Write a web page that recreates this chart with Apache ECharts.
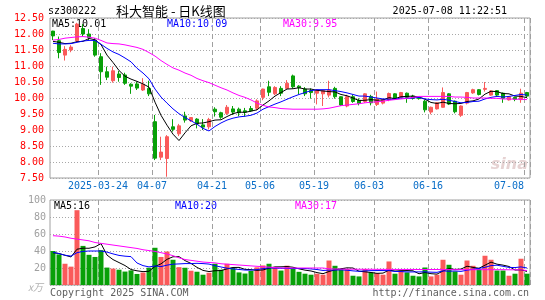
<!DOCTYPE html>
<html>
<head>
<meta charset="utf-8">
<script src="https://cdn.jsdelivr.net/npm/echarts@6/dist/echarts.min.js"></script>
<style>
html,body{margin:0;padding:0;background:#fff;}
#main{width:545px;height:300px;}
</style>
</head>
<body>
<div id="main"></div>
<script>
// 科大智能 sz300222 日K线 2025-03-12 ~ 2025-07-08
var dates = [
  '2025-03-12','2025-03-13','2025-03-14','2025-03-17','2025-03-18','2025-03-19','2025-03-20','2025-03-21','2025-03-24','2025-03-25',
  '2025-03-26','2025-03-27','2025-03-28','2025-03-31','2025-04-01','2025-04-02','2025-04-03','2025-04-07','2025-04-08','2025-04-09',
  '2025-04-10','2025-04-11','2025-04-14','2025-04-15','2025-04-16','2025-04-17','2025-04-18','2025-04-21','2025-04-22','2025-04-23',
  '2025-04-24','2025-04-25','2025-04-28','2025-04-29','2025-04-30','2025-05-06','2025-05-07','2025-05-08','2025-05-09','2025-05-12',
  '2025-05-13','2025-05-14','2025-05-15','2025-05-16','2025-05-19','2025-05-20','2025-05-21','2025-05-22','2025-05-23','2025-05-26',
  '2025-05-27','2025-05-28','2025-05-29','2025-05-30','2025-06-03','2025-06-04','2025-06-05','2025-06-06','2025-06-09','2025-06-10',
  '2025-06-11','2025-06-12','2025-06-13','2025-06-16','2025-06-17','2025-06-18','2025-06-19','2025-06-20','2025-06-23','2025-06-24',
  '2025-06-25','2025-06-26','2025-06-27','2025-06-30','2025-07-01','2025-07-02','2025-07-03','2025-07-04','2025-07-07','2025-07-08'
];
var openP = [
  12.09,11.79,11.34,11.50,11.79,12.17,12.00,11.81,11.29,10.82, 10.54,10.75,10.72,10.43,10.44,10.25,10.30,9.26,8.15,8.11,
  9.10,8.88,9.44,9.29,9.34,9.16,9.10,9.65,9.54,9.52, 9.66,9.65,9.60,9.67,9.68,10.02,10.35,10.13,10.30,10.30,
  10.69,10.37,10.28,10.23,10.15,10.13,10.09,10.30,10.04,9.75, 10.04,9.93,9.89,10.05,9.80,9.84,9.95,10.13,10.02,10.15,
  10.06,10.02,9.90,9.56,9.66,9.71,10.13,9.90,9.46,9.84, 10.16,10.26,10.27,10.09,10.23,10.15,9.94,10.02,9.95,10.17
];
var closeP = [
  11.94,11.42,11.52,11.59,12.31,12.00,11.89,11.34,10.82,10.65, 10.85,10.64,10.46,10.37,10.31,10.43,10.13,8.12,8.31,8.79,
  9.02,9.13,9.31,9.39,9.19,9.09,9.33,9.57,9.40,9.71, 9.56,9.54,9.56,9.60,9.91,10.28,10.18,10.33,10.15,10.46,
  10.35,10.32,10.13,10.17,10.25,10.23,10.25,10.04,9.78,10.04, 9.89,9.83,10.13,9.85,9.97,9.95,10.14,9.99,10.17,10.02,
  9.99,9.98,9.63,9.71,9.85,10.17,9.81,9.57,9.75,10.17, 10.26,10.11,10.30,10.22,10.09,9.99,10.04,9.96,10.15,10.06
];
var lowP = [
  11.81,11.24,11.17,11.43,11.76,11.92,11.81,11.29,10.41,10.56, 10.48,10.51,10.41,10.13,10.25,10.22,10.06,8.06,8.06,7.54,
  8.95,8.81,9.23,9.25,9.05,9.00,9.02,9.42,9.35,9.47, 9.47,9.43,9.42,9.57,9.62,9.93,10.06,10.09,10.06,10.29,
  10.30,10.12,10.06,9.98,9.80,9.75,10.02,9.98,9.75,9.71, 9.85,9.77,9.85,9.77,9.75,9.80,9.90,9.97,10.00,9.85,
  9.95,9.95,9.55,9.49,9.64,9.70,9.78,9.52,9.41,9.80, 10.13,10.08,10.20,10.07,10.05,9.85,9.92,9.90,9.85,10.02
];
var highP = [
  12.10,11.92,11.62,11.65,12.35,12.31,12.15,11.87,11.40,10.98, 10.98,10.85,10.79,10.46,10.51,10.62,10.54,9.47,8.79,8.84,
  9.34,9.19,9.57,9.40,9.37,9.34,9.38,9.71,9.57,9.78, 9.75,9.70,9.69,9.75,9.96,10.29,10.54,10.37,10.37,10.56,
  10.73,10.40,10.34,10.30,10.27,10.25,10.54,10.35,10.05,10.10, 10.10,9.99,10.15,10.10,10.20,9.97,10.17,10.15,10.19,10.17,
  10.10,10.04,9.94,9.73,9.87,10.33,10.15,9.92,9.77,10.19, 10.29,10.28,10.50,10.25,10.25,10.17,10.06,10.04,10.29,10.19
];
var ma5 = [
  11.77,11.74,11.70,11.71,11.76,11.77,11.86,11.82,11.67,11.34, 11.11,10.86,10.68,10.59,10.52,10.44,10.34,9.87,9.46,9.15,
  8.87,8.67,8.91,9.13,9.21,9.22,9.26,9.31,9.32,9.42, 9.51,9.56,9.55,9.59,9.63,9.78,9.91,10.06,10.17,10.28,
  10.29,10.32,10.28,10.28,10.24,10.22,10.20,10.19,10.11,10.07, 10.00,9.92,9.93,9.95,9.93,9.94,10.01,9.98,10.04,10.05,
  10.06,10.03,9.96,9.86,9.83,9.87,9.83,9.82,9.83,9.89, 9.91,9.97,10.12,10.21,10.20,10.14,10.13,10.06,10.05,10.01
];
var ma10 = [
  11.71,11.69,11.69,11.70,11.74,11.78,11.80,11.80,11.68,11.55, 11.44,11.36,11.25,11.13,10.93,10.78,10.60,10.28,10.03,9.84,
  9.66,9.51,9.39,9.29,9.18,9.05,8.97,9.11,9.22,9.31, 9.37,9.41,9.43,9.46,9.53,9.65,9.73,9.81,9.88,9.96,
  10.04,10.11,10.17,10.23,10.26,10.26,10.26,10.23,10.20,10.16, 10.11,10.06,10.06,10.03,10.00,9.97,9.96,9.96,10.00,9.99,
  10.00,10.02,9.97,9.95,9.94,9.96,9.93,9.89,9.85,9.86, 9.89,9.90,9.97,10.02,10.05,10.03,10.05,10.08,10.11,10.09
];
var ma30 = [
  11.81,11.83,11.87,11.89,11.91,11.92,11.90,11.87,11.80,11.72, 11.70,11.69,11.66,11.62,11.58,11.52,11.42,11.31,11.17,11.05,
  10.94,10.87,10.78,10.71,10.61,10.54,10.48,10.40,10.32,10.25, 10.16,10.08,10.02,9.94,9.84,9.77,9.72,9.70,9.67,9.66,
  9.65,9.65,9.65,9.65,9.65,9.66,9.68,9.72,9.76,9.78, 9.80,9.82,9.85,9.87,9.88,9.90,9.93,9.95,9.97,9.99,
  10.02,10.05,10.05,10.05,10.05,10.05,10.05,10.03,10.03,10.02, 10.00,10.00,10.00,9.99,9.99,9.97,9.97,9.96,9.96,9.95
];
// 成交量（万手）
var volume = [
  40,36,25,21.6,88,46,35.5,33,41,20.5, 19.3,18,15.8,17.2,13,14.6,20.3,43.8,33,39.4,
  29.7,21,20.3,16.8,15.6,12.1,14.4,25,18,25, 20.5,14.8,13.5,16.5,20.8,23,25,21,17,22.7,
  19,15.5,13.3,12.1,13.3,12.1,28.8,22.6,18.8,18.8, 10.9,10.1,18.8,14.8,14,12.1,27.7,13.3,17,14.8,
  10.9,10.1,20.6,10.1,12.1,29.7,23.8,16,12.1,28.8, 22.6,18.8,34.4,29.7,17,17,10.9,13.3,30.9,13.3
];
var volMa5 = [
  38,37,35,33,42.1,43.3,43.2,44.8,48.7,35.2, 29.9,26.4,22.9,18.2,16.7,15.7,16.2,21.8,24.9,30.2,
  33.2,33.4,28.7,25.4,20.7,17.2,15.8,16.8,17.0,18.9, 20.6,20.7,18.4,18.1,17.2,17.7,19.8,21.3,21.4,21.7,
  20.9,19.0,17.5,16.5,14.6,13.3,15.9,17.8,19.1,20.2, 20.0,16.2,15.5,14.7,13.7,14.0,17.5,16.4,16.8,17.0,
  16.7,13.2,14.7,13.3,12.8,16.5,19.3,18.3,18.7,22.1, 20.7,19.7,23.3,26.9,24.5,23.4,21.8,17.6,17.8,16
];
var volMa10 = [
  38.5,37,35,34,38,39.5,40,40,40,38.7, 36.6,34.8,33.9,33.4,25.9,22.8,21.3,22.4,21.6,23.4,
  24.5,24.8,25.2,25.2,25.5,25.2,24.6,22.7,21.2,19.8, 18.9,18.3,17.6,17.5,18.1,19.2,20.2,19.8,19.7,19.5,
  19.3,19.4,19.4,18.9,18.2,17.1,17.5,17.6,17.8,17.4, 16.6,16.1,16.6,16.9,17.0,17.0,16.9,15.9,15.8,15.4,
  15.4,15.4,15.5,15.1,14.9,16.6,16.2,16.5,16.0,17.4, 18.6,19.5,20.8,22.8,23.3,22.0,20.7,20.5,21.3,20
];
var volMa30 = [
  58,57.5,56.5,55,54,53,52,50,49,48, 47,46,45,44,43,41.5,40.5,39.5,38,36.5,
  34.5,32,30,29,28,27,26.5,26,25,24.5, 24,23.5,23,22.5,22,21.5,21,20.5,20,20,
  20,20,20,20,20,20,19,18.8,18.7,18.6, 18.6,18.5,18.5,18.5,18.4,18.4,18.4,18.3,18.3,18.3,
  18.3,18.2,18.2,18.2,18.2,18.1,18.1,18.1,18.1,18, 18,18,18,18,18,18,17.9,17.9,17.8,17
];
var tickLabels = ['2025-03-24','04-07','04-21','05-06','05-19','06-03','06-16','07-08'];

var UP = '#fa5a5a', DOWN = '#08a008';
var MONO = '"DejaVu Sans Mono", "Liberation Mono", monospace';
var LABEL_BLUE = '#0a6ec8';
var DASH_GREY = '#a0a0a0';

var tickIdx = tickLabels.map(function (t) {
  for (var i = 0; i < dates.length; i++) {
    if (dates[i] === t || dates[i].slice(5) === t) return i;
  }
  return -1;
});
var tickDates = dates.concat(['end']);
function isTick(index) { return tickIdx.indexOf(index) >= 0; }

var kData = dates.map(function (d, i) {
  return [openP[i], closeP[i], lowP[i], highP[i]];
});
var volData = volume.map(function (v, i) {
  return { value: v, itemStyle: { color: closeP[i] >= openP[i] ? UP : DOWN } };
});

// label axis: ticks on candle boundaries
function labelAxisX(gridIndex, showLabel) {
  return {
    type: 'category', gridIndex: gridIndex, position: 'bottom', data: tickDates, boundaryGap: false,
    axisLine: { show: false }, axisTick: { show: false }, splitLine: { show: false },
    axisLabel: {
      show: showLabel, interval: function (index) { return isTick(index); },
      fontFamily: MONO, fontSize: 10, color: LABEL_BLUE, margin: 3,
      formatter: function (value, index) {
        var k = tickIdx.indexOf(index);
        if (k < 0) return '';
        var t = tickLabels[k];
        if (t === '07-08') return '{r|' + t + '}';
        if (t === '06-03') return '{s|' + t + '}';
        return t;
      },
      rich: {
        r: { fontFamily: MONO, fontSize: 10, color: LABEL_BLUE, padding: [0, 30, 0, 0] },
        s: { fontFamily: MONO, fontSize: 10, color: LABEL_BLUE, padding: [0, 10, 0, 0] }
      }
    }
  };
}
// candle axis; its split lines fall on band boundaries
function dataAxisX(gridIndex) {
  return {
    type: 'category', gridIndex: gridIndex, position: 'bottom', data: dates, boundaryGap: true,
    axisLine: { show: false }, axisTick: { show: false }, axisLabel: { show: false },
    splitLine: {
      show: true, interval: function (index) { return isTick(index); },
      lineStyle: { color: DASH_GREY, type: [5, 3], width: 1 }
    }
  };
}
// dashed date lines on the candle axis: band centre minus half a band
function dateLineSeries(xAxisIndex, yAxisIndex, y0, y1) {
  return {
    type: 'custom', coordinateSystem: 'cartesian2d', xAxisIndex: xAxisIndex, yAxisIndex: yAxisIndex,
    silent: true, z: 2,
    data: tickIdx.map(function (i) { return [i, y0, y1]; }),
    encode: { x: 0, y: [1, 2] },
    renderItem: function (params, api) {
      var top = api.coord([api.value(0), api.value(2)]);
      var bottom = api.coord([api.value(0), api.value(1)]);
      var band = api.size([1, 0])[0];
      var x = Math.round(top[0] - band / 2) + 0.5;
      return {
        type: 'line',
        shape: { x1: x, y1: top[1], x2: x, y2: bottom[1] },
        style: { stroke: DASH_GREY, lineWidth: 1, lineDash: [5, 3] }
      };
    }
  };
}

var series = [
  dateLineSeries(0, 0, 7.5, 12.5),
  dateLineSeries(2, 1, 0, 100),
  {
    type: 'candlestick', xAxisIndex: 0, yAxisIndex: 0, data: kData, barWidth: 4, z: 3,
    itemStyle: { color: UP, color0: DOWN, borderColor: UP, borderColor0: DOWN, borderWidth: 1 }
  },
  { type: 'line', xAxisIndex: 0, yAxisIndex: 0, data: ma5, showSymbol: false, z: 4, lineStyle: { color: '#000', width: 1 } },
  { type: 'line', xAxisIndex: 0, yAxisIndex: 0, data: ma10, showSymbol: false, z: 4, lineStyle: { color: '#00f', width: 1 } },
  { type: 'line', xAxisIndex: 0, yAxisIndex: 0, data: ma30, showSymbol: false, z: 4, lineStyle: { color: '#f0f', width: 1 } },
  { type: 'bar', xAxisIndex: 2, yAxisIndex: 1, data: volData, barWidth: 5, z: 3 },
  { type: 'line', xAxisIndex: 2, yAxisIndex: 1, data: volMa5, showSymbol: false, z: 4, lineStyle: { color: '#000', width: 1 } },
  { type: 'line', xAxisIndex: 2, yAxisIndex: 1, data: volMa10, showSymbol: false, z: 4, lineStyle: { color: '#00f', width: 1 } },
  { type: 'line', xAxisIndex: 2, yAxisIndex: 1, data: volMa30, showSymbol: false, z: 4, lineStyle: { color: '#f0f', width: 1 } }
];

var chart = echarts.init(document.getElementById('main'), null, { renderer: 'canvas' });
chart.setOption({
  animation: false,
  backgroundColor: '#fff',
  grid: [
    { left: 50, top: 18, width: 480, height: 160, show: true, borderColor: '#a0a0a0', borderWidth: 1 },
    { left: 50, top: 200, width: 480, height: 85, show: true, borderColor: '#a0a0a0', borderWidth: 1 }
  ],
  xAxis: [dataAxisX(0), labelAxisX(0, true), dataAxisX(1), labelAxisX(1, false)],
  yAxis: [
    {
      type: 'value', gridIndex: 0, min: 7.5, max: 12.5, interval: 0.5,
      axisLine: { show: false }, axisTick: { show: false },
      axisLabel: { color: '#f00', fontFamily: MONO, fontSize: 10, margin: 6,
        formatter: function (v) { return v.toFixed(2); } },
      splitLine: { lineStyle: { color: '#a8a8a8', type: [1, 2] } }
    },
    {
      type: 'value', gridIndex: 1, min: 0, max: 100, interval: 20,
      axisLine: { show: false }, axisTick: { show: false },
      axisLabel: { color: '#a0a0a0', fontFamily: MONO, fontSize: 10, margin: 4,
        formatter: function (v) { return v === 0 ? '' : String(v); } },
      splitLine: { lineStyle: { color: '#a8a8a8', type: [1, 2] } }
    }
  ],
  series: series,
  graphic: [
    { type: 'text', x: 48, y: 11, style: { text: 'sz300222', font: '10px ' + MONO, fill: '#000', verticalAlign: 'middle' } },
    { type: 'text', x: 116, y: 11, style: { text: '科大智能 - 日K线图', font: '13px "Noto Sans CJK SC"', fill: '#000', verticalAlign: 'middle' } },
    { type: 'text', x: 507, y: 11, style: { text: '2025-07-08 11:22:51', font: '10px ' + MONO, fill: '#000', align: 'right', verticalAlign: 'middle' } },
    { type: 'text', x: 52, y: 24, style: { text: 'MA5:' + ma5[ma5.length - 1].toFixed(2), font: '10px ' + MONO, fill: '#000', verticalAlign: 'middle' } },
    { type: 'text', x: 167, y: 24, style: { text: 'MA10:' + ma10[ma10.length - 1].toFixed(2), font: '10px ' + MONO, fill: '#00f', verticalAlign: 'middle' } },
    { type: 'text', x: 283, y: 24, style: { text: 'MA30:' + ma30[ma30.length - 1].toFixed(2), font: '10px ' + MONO, fill: '#f0f', verticalAlign: 'middle' } },
    { type: 'text', x: 54, y: 206, style: { text: 'MA5:' + Math.round(volMa5[volMa5.length - 1]), font: '10px ' + MONO, fill: '#000', verticalAlign: 'middle' } },
    { type: 'text', x: 175, y: 206, style: { text: 'MA10:' + Math.round(volMa10[volMa10.length - 1]), font: '10px ' + MONO, fill: '#00f', verticalAlign: 'middle' } },
    { type: 'text', x: 295, y: 206, style: { text: 'MA30:' + Math.round(volMa30[volMa30.length - 1]), font: '10px ' + MONO, fill: '#f0f', verticalAlign: 'middle' } },
    { type: 'text', x: 28, y: 287, style: { text: 'x万', font: 'italic 10px "Noto Sans CJK SC"', fill: '#b0b0b0', verticalAlign: 'middle' } },
    { type: 'text', x: 50, y: 293, style: { text: 'Copyright 2025 SINA.COM', font: '10px ' + MONO, fill: '#606060', verticalAlign: 'middle' } },
    { type: 'text', x: 529, y: 293, style: { text: 'http://finance.sina.com.cn', font: '10px ' + MONO, fill: '#606060', align: 'right', verticalAlign: 'middle' } },
    { type: 'text', x: 528, y: 165, z: -1, style: { text: 'sina', font: 'italic bold 16px "DejaVu Sans"', fill: '#e6d2d2', align: 'right', verticalAlign: 'middle' } }
  ]
});
</script>
</body>
</html>
